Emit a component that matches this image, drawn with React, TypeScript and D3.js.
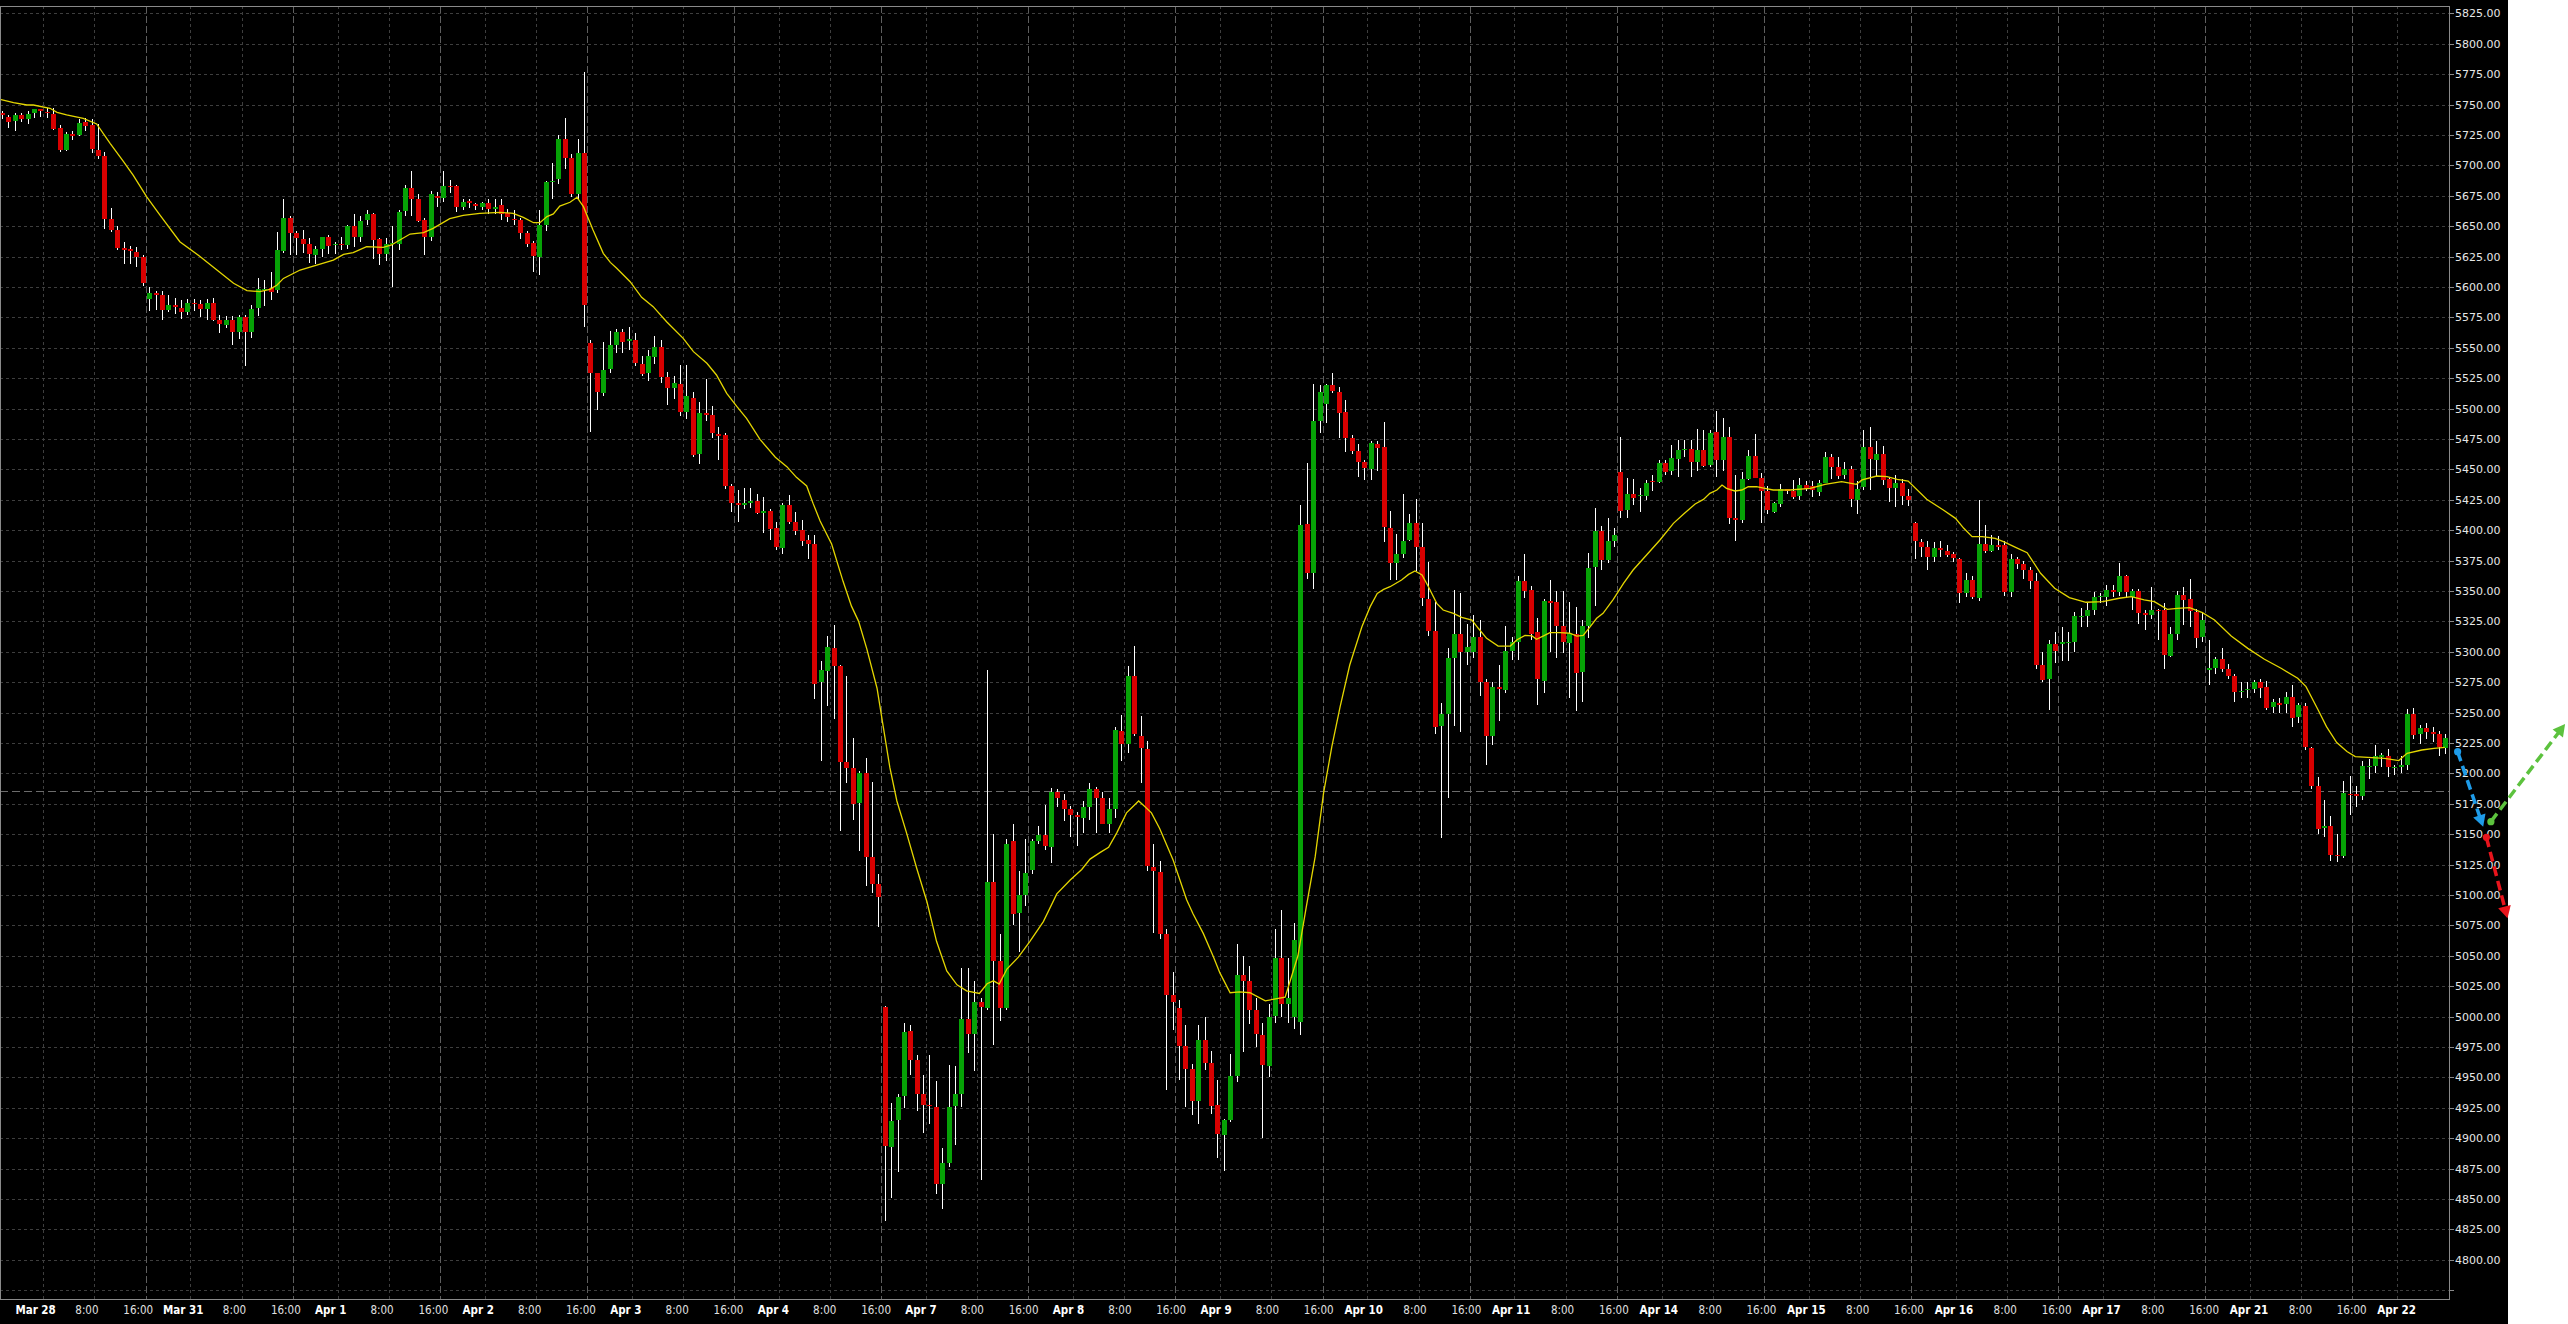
import React from 'react';
import * as d3 from 'd3';

const opens = [
5743,5740,5736,5741,5738,5743,5746,5744,5742,5731,
5713,5726,5725,5736,5733,5713,5708,5656,5647,5632,
5631,5629,5625,5590,5595,5593,5581,5585,5583,5580,
5587,5586,5582,5587,5573,5569,5573,5563,5575,5563,
5582,5598,5599,5597,5630,5657,5644,5639,5635,5626,
5631,5641,5634,5635,5634,5650,5641,5655,5660,5639,
5627,5635,5636,5662,5681,5672,5655,5641,5675,5673,
5683,5683,5666,5671,5668,5666,5669,5664,5667,5661,
5656,5655,5644,5636,5625,5651,5686,5689,5722,5706,
5676,5710,5554,5529,5513,5532,5552,5563,5555,5556,
5537,5529,5543,5551,5526,5517,5520,5497,5509,5462,
5496,5495,5479,5478,5436,5422,5420,5422,5424,5414,
5416,5402,5386,5421,5407,5400,5392,5389,5275,5284,
5303,5288,5209,5204,5175,5200,5131,5109,5008,4893,
4915,4934,4988,4964,4936,4927,4926,4863,4880,4926,
4936,4998,4986,5012,5007,5111,5046,5007,5144,5085,
5100,5120,5144,5149,5140,5185,5178,5171,5166,5163,
5172,5187,5180,5159,5171,5235,5224,5280,5231,5220,
5123,5119,5068,5018,5007,4976,4957,4931,4981,4962,
4927,4903,4915,4951,5034,5029,5005,4985,4960,5000,
5048,5010,5000,4995,5405,5365,5490,5503,5519,5514,
5497,5476,5465,5456,5451,5471,5468,5402,5373,5380,
5392,5406,5386,5343,5317,5239,5249,5295,5315,5300,
5300,5312,5275,5231,5271,5269,5301,5308,5358,5351,
5316,5276,5342,5341,5321,5308,5315,5283,5321,5369,
5399,5375,5391,5448,5417,5430,5428,5428,5440,5439,
5455,5448,5459,5466,5467,5456,5466,5454,5481,5458,
5477,5410,5408,5442,5461,5443,5432,5415,5422,5434,
5432,5428,5437,5436,5432,5439,5460,5452,5445,5450,
5425,5435,5468,5458,5463,5442,5435,5439,5428,5406,
5390,5386,5378,5385,5383,5380,5376,5348,5359,5345,
5389,5383,5388,5388,5349,5376,5372,5367,5358,5289,
5277,5306,5306,5307,5308,5328,5329,5334,5345,5345,
5351,5349,5362,5345,5350,5332,5330,5334,5334,5297,
5315,5347,5343,5333,5312,5285,5287,5294,5286,5280,
5267,5268,5269,5275,5271,5255,5258,5257,5263,5246,
5255,5221,5190,5155,5157,5133,5132,5183,5183,5181,
5205,5206,5213,5214,5204,5205,5207,5249,5232,5237,
5234,5232,5221];

const highs = [
5745,5741,5743,5743,5745,5746,5746,5747,5747,5733,
5727,5728,5738,5739,5738,5734,5711,5665,5650,5637,
5634,5633,5626,5600,5597,5597,5593,5591,5589,5590,
5590,5589,5590,5591,5577,5576,5576,5577,5577,5585,
5607,5606,5612,5645,5672,5658,5646,5647,5640,5634,
5641,5643,5637,5641,5651,5660,5658,5663,5661,5640,
5640,5650,5663,5684,5695,5676,5657,5679,5678,5695,
5688,5684,5672,5672,5669,5670,5672,5672,5672,5664,
5663,5657,5646,5638,5663,5687,5702,5725,5739,5709,
5722,5777,5556,5529,5555,5564,5565,5565,5567,5562,
5543,5548,5560,5556,5530,5527,5536,5536,5514,5505,
5524,5502,5485,5480,5438,5433,5435,5435,5430,5427,
5417,5407,5422,5429,5415,5408,5396,5396,5292,5313,
5322,5289,5280,5229,5202,5213,5193,5117,5009,4929,
4936,4995,4993,4968,4952,4968,4947,4892,4960,4959,
5040,5040,5029,5015,5285,5150,5068,5146,5158,5120,
5146,5146,5157,5174,5188,5187,5183,5173,5168,5177,
5192,5189,5185,5180,5238,5248,5288,5305,5247,5227,
5142,5128,5072,5037,5014,4993,4961,4993,5000,4972,
4948,4916,4969,5060,5050,5042,5015,4995,5010,5072,
5088,5048,5077,5421,5455,5520,5519,5520,5529,5518,
5507,5478,5471,5458,5473,5473,5489,5416,5397,5430,
5413,5426,5406,5374,5341,5258,5303,5351,5348,5323,
5330,5326,5278,5275,5289,5321,5312,5362,5380,5354,
5328,5343,5359,5350,5350,5341,5337,5326,5381,5418,
5403,5410,5402,5477,5443,5442,5435,5441,5445,5458,
5458,5470,5474,5474,5474,5483,5482,5482,5498,5492,
5485,5445,5448,5466,5479,5447,5436,5423,5438,5434,
5441,5443,5440,5440,5441,5464,5463,5460,5456,5453,
5440,5482,5485,5473,5469,5444,5445,5442,5434,5407,
5393,5391,5390,5391,5388,5382,5377,5365,5362,5425,
5404,5396,5395,5391,5380,5378,5375,5370,5365,5300,
5310,5316,5320,5316,5333,5336,5340,5349,5348,5355,
5355,5373,5363,5352,5352,5334,5353,5335,5340,5320,
5350,5353,5360,5335,5333,5310,5296,5303,5290,5282,
5275,5275,5277,5278,5276,5261,5262,5267,5273,5258,
5258,5222,5197,5178,5165,5150,5194,5198,5190,5210,
5212,5223,5217,5220,5207,5214,5253,5254,5240,5241,
5238,5235,5232];

const lows = [
5738,5731,5728,5736,5734,5739,5740,5739,5729,5711,
5712,5721,5724,5728,5710,5705,5648,5645,5630,5619,
5619,5616,5601,5580,5581,5573,5579,5578,5574,5577,
5580,5575,5573,5572,5562,5566,5552,5557,5535,5558,
5576,5584,5589,5595,5628,5626,5626,5628,5620,5619,
5625,5627,5627,5630,5631,5633,5637,5651,5623,5618,
5621,5600,5630,5658,5658,5653,5626,5638,5666,5670,
5677,5662,5663,5665,5663,5663,5660,5660,5655,5653,
5651,5639,5633,5612,5610,5646,5672,5685,5697,5674,
5672,5567,5481,5499,5510,5529,5546,5546,5548,5535,
5527,5523,5537,5521,5503,5508,5494,5491,5460,5454,
5490,5476,5458,5434,5415,5407,5417,5418,5413,5398,
5392,5384,5380,5405,5396,5387,5376,5261,5210,5255,
5245,5153,5192,5162,5136,5107,5102,5074,4832,4851,
4872,4925,4952,4922,4904,4912,4854,4842,4876,4894,
4926,4970,4955,4866,5005,4977,4996,5005,5075,5053,
5091,5117,5142,5137,5126,5172,5161,5148,5140,5151,
5162,5151,5158,5151,5163,5210,5217,5231,5192,5120,
5069,5064,4940,4989,4948,4926,4919,4912,4956,4920,
4884,4873,4913,4946,4971,4994,4975,4900,4950,4995,
5000,4995,4990,4985,5360,5352,5480,5488,5513,5476,
5464,5463,5444,5441,5441,5449,5390,5359,5359,5377,
5391,5366,5338,5313,5232,5147,5180,5239,5234,5289,
5295,5264,5207,5223,5243,5266,5293,5293,5344,5310,
5256,5266,5300,5295,5299,5262,5251,5259,5311,5338,
5367,5373,5386,5410,5410,5421,5415,5425,5432,5439,
5445,5445,5444,5460,5444,5449,5452,5452,5444,5449,
5405,5391,5406,5441,5443,5406,5413,5414,5419,5430,
5426,5425,5432,5427,5428,5439,5442,5442,5442,5419,
5413,5433,5433,5444,5437,5423,5419,5421,5420,5376,
5378,5367,5374,5378,5378,5374,5340,5345,5343,5342,
5381,5382,5384,5346,5345,5368,5360,5352,5286,5275,
5252,5291,5292,5292,5300,5320,5320,5330,5340,5338,
5345,5346,5344,5334,5323,5318,5327,5310,5286,5296,
5310,5322,5320,5303,5308,5273,5282,5283,5278,5259,
5262,5262,5266,5262,5252,5250,5250,5250,5238,5241,
5219,5187,5150,5148,5128,5127,5130,5166,5172,5178,
5195,5200,5205,5197,5199,5200,5203,5228,5224,5228,
5226,5214,5216];

const closes = [
5741,5736,5741,5738,5742,5746,5744,5743,5730,5713,
5726,5724,5735,5733,5713,5708,5656,5647,5632,5630,
5629,5625,5604,5595,5593,5581,5585,5583,5580,5587,
5586,5582,5587,5573,5570,5573,5563,5575,5563,5582,
5598,5598,5596,5630,5657,5645,5640,5635,5627,5631,
5641,5634,5635,5634,5650,5641,5654,5660,5639,5627,
5635,5636,5662,5681,5672,5654,5641,5676,5673,5683,
5682,5666,5670,5669,5666,5669,5664,5666,5660,5658,
5655,5644,5635,5625,5651,5686,5687,5722,5706,5676,
5710,5585,5529,5513,5532,5552,5563,5555,5557,5537,
5529,5543,5551,5526,5517,5521,5497,5510,5462,5496,
5494,5480,5477,5436,5422,5420,5422,5424,5414,5416,
5401,5386,5421,5407,5400,5391,5389,5274,5285,5304,
5288,5209,5204,5174,5200,5131,5109,5098,4894,4914,
4934,4987,4964,4936,4927,4926,4863,4880,4926,4936,
4998,4986,5012,5008,5111,5046,5007,5142,5084,5100,
5118,5144,5149,5140,5185,5180,5171,5166,5164,5172,
5187,5180,5159,5171,5236,5224,5280,5232,5221,5124,
5120,5068,5018,5012,4976,4957,4931,4981,4962,4927,
4903,4915,4951,5034,5029,5005,4985,4960,5000,5048,
5010,5015,5063,5404,5365,5490,5514,5519,5514,5497,
5476,5465,5456,5451,5472,5468,5402,5373,5380,5391,
5406,5386,5344,5317,5238,5249,5295,5315,5300,5304,
5312,5275,5231,5271,5269,5301,5308,5358,5350,5315,
5277,5342,5340,5321,5308,5315,5283,5321,5369,5399,
5375,5391,5396,5416,5430,5427,5429,5439,5439,5455,
5448,5459,5466,5467,5456,5466,5453,5480,5458,5477,
5410,5408,5442,5461,5443,5432,5416,5422,5434,5432,
5427,5437,5434,5433,5439,5460,5452,5445,5450,5425,
5434,5468,5458,5463,5442,5435,5439,5428,5425,5391,
5386,5378,5385,5383,5380,5377,5348,5359,5345,5389,
5383,5388,5386,5349,5376,5372,5367,5358,5289,5277,
5306,5300,5308,5308,5329,5329,5334,5345,5346,5351,
5349,5362,5349,5350,5332,5330,5334,5333,5297,5315,
5347,5343,5333,5312,5326,5287,5294,5286,5280,5267,
5268,5269,5275,5270,5254,5259,5256,5263,5246,5256,
5221,5190,5155,5157,5133,5132,5184,5182,5181,5206,
5206,5214,5215,5205,5205,5207,5249,5232,5237,5234,
5232,5221,5229];

// moving-average line, sampled: position in bar units and value
const maIdx = [
-0.3,1.8,3.9,4.9,7.5,8.6,10.1,12.7,14.8,16.9,19.0,20.5,22.6,24.7,27.8,31.0,33.6,36.2,38.3,40.3,
41.9,43.0,44.0,46.6,49.2,51.8,53.4,54.9,57.0,59.6,60.9,62.2,63.8,65.9,67.4,70.0,72.1,74.7,77.9,79.9,
81.5,83.1,84.1,85.2,86.2,87.2,88.8,89.9,90.9,92.4,94.0,95.1,96.1,98.2,100.0,101.8,103.9,106.5,108.1,110.2,
111.7,113.3,114.9,116.4,118.5,120.9,122.7,124.2,125.8,126.8,127.9,129.7,131.5,132.8,133.9,135.2,136.8,137.8,138.8,139.9,
141.4,143.0,144.6,146.1,147.7,149.3,150.8,152.8,154.0,155.0,155.9,157.1,158.9,160.7,162.8,164.9,167.0,168.8,170.1,171.7,
173.0,174.3,175.8,177.7,178.4,179.7,181.0,183.1,185.2,186.2,187.8,189.4,190.4,192.0,193.5,195.1,197.5,200.6,202.6,203.9,
205.3,206.6,207.9,209.2,210.7,212.6,213.9,215.0,216.0,217.0,218.8,219.9,220.9,222.0,223.0,224.3,225.3,226.9,228.2,229.8,
230.8,232.1,233.9,235.8,236.8,238.1,239.2,239.9,241.0,242.0,243.6,245.1,246.2,247.2,248.3,249.3,250.3,251.9,253.5,255.0,
257.1,259.2,261.3,262.9,264.7,266.0,267.0,268.1,268.9,269.6,270.9,272.0,273.0,274.3,275.6,276.9,279.5,282.7,285.0,287.6,
289.9,290.8,293.1,294.7,296.3,298.0,300.9,303.5,305.4,306.7,308.0,309.6,311.6,312.9,314.8,316.6,318.7,320.9,323.2,325.8,
328.4,331.0,332.9,334.9,336.5,338.5,340.1,342.0,344.0,345.9,348.5,351.1,353.7,356.3,358.9,360.2,362.1,363.4,365.0,366.6,
367.9,370.5,372.5,374.7,376.0,378.3,380.2,381.9];
const maVal = [
5754.2,5751.5,5749.6,5749.6,5746.9,5743.6,5741.4,5738.6,5734,5718.1,5703,5692,5674.2,5659.1,5637.2,5624.9,5613.9,5603,5597,5596.1,
5598,5601.6,5607,5613.9,5618,5622.1,5626.8,5628.2,5633.1,5632.6,5634.5,5638.6,5643.5,5644.6,5648.2,5656.1,5658.9,5660.5,5661.3,5660.5,
5657.2,5652.8,5652.8,5657.8,5660,5666.5,5669.6,5673.7,5666,5646.8,5627.6,5620.2,5615.3,5604.3,5591.4,5583.8,5571.4,5557.7,5546.8,5537.2,
5527.6,5512.5,5501.5,5491.9,5474.7,5459.9,5452.2,5443.4,5436.3,5422,5407.5,5388.6,5357.7,5337.5,5325.2,5302.4,5270,5237.4,5204.9,5177.3,
5151.3,5122,5094.4,5061.9,5037.5,5026.1,5021.2,5019,5027,5029.4,5026.8,5039.1,5048.9,5061.9,5078.1,5100.9,5112.3,5121,5129.5,5135,
5139.2,5151.3,5167.5,5177.3,5174,5167.5,5154.5,5128.5,5096,5084.6,5068.4,5048.9,5035.9,5019.6,5020.3,5019.6,5013,5016,5050,5090,
5131.5,5183.6,5221.9,5254.8,5289.1,5320.6,5337.1,5348,5351.3,5353.5,5359,5363.6,5366.4,5363.1,5353.5,5339.8,5334.3,5331.6,5328.3,5326.1,
5319.3,5311,5304.7,5304.7,5309.7,5313.5,5313,5310.2,5313,5315.7,5315.7,5315.2,5312.9,5313.5,5320.6,5327.5,5331.6,5343.1,5356.3,5367.2,
5379.6,5391.9,5405.6,5413.3,5421.5,5425.3,5430.3,5433,5437.1,5434.4,5432.2,5433,5435.7,5435.7,5434.4,5433,5433,5434.4,5437.7,5439.9,
5437.7,5441.3,5444.5,5444,5441.8,5440.4,5425.4,5416.6,5409.7,5401.5,5394.7,5394.7,5393.3,5390.6,5385.9,5381.5,5364.5,5352.2,5344.5,5340.7,
5341.2,5344,5345.3,5342.6,5341.2,5334.9,5335.7,5336.3,5332.2,5326.1,5313,5302.8,5293.8,5286.4,5278.2,5271.3,5252.1,5238.4,5225.3,5217.9,
5213.8,5213,5212.4,5210.5,5216.5,5219.2,5220.6,5221.4];

const dayLabels = ['Mar 28','Mar 31','Apr 1','Apr 2','Apr 3','Apr 4','Apr 7','Apr 8','Apr 9','Apr 10','Apr 11','Apr 14','Apr 15','Apr 16','Apr 17','Apr 21','Apr 22'];
const hourLabels = ['8:00', '16:00'];
const priceLevels = d3.range(4775, 5826, 25);
const markerLine = 5185.4;

// drawn arrows: start/end as [bar position, price]
const arrowStarts = [[383.9, 5217.8], [389.1, 5160.3], [388.4, 5147.4]];
const arrowEnds = [[387.9, 5156.0], [400.7, 5240.6], [391.7, 5080.8]];
const arrowColors = ['#1e9be8', '#5cc23e', '#e8141c'];

const W = 2568, H = 1324;
const BG_W = 2508;
const PL = 0, PR = 2449, PT = 6, PB = 1299;
const BARS_PER_DAY = 23;
const FIRST_DAY_BAR = 7;

export default function App() {
  const n = closes.length;
  const x = d3.scaleLinear().domain([0, n - 1]).range([2, 2 + (n - 1) * 6.3965]);
  const y = d3.scaleLinear().domain([4775, 5825]).range([1290.2, 13.3]);
  const labelX = d3.scaleLinear().domain([FIRST_DAY_BAR, FIRST_DAY_BAR + 16 * BARS_PER_DAY]).range([35.6, 2396.6]);

  const vGrid: { bar: number; bright: boolean }[] = [];
  const xLabels: { bar: number; text: string; bold: boolean }[] = [];
  dayLabels.forEach((d, k) => {
    const b0 = FIRST_DAY_BAR + k * BARS_PER_DAY;
    [0, 8, 16].forEach((h, j) => {
      const b = b0 + h;
      if (b < n) {
        vGrid.push({ bar: b, bright: j === 2 });
        xLabels.push({ bar: b, text: j === 0 ? d : hourLabels[j - 1], bold: j === 0 });
      }
    });
  });

  const maLine = d3.line<number>()
    .x((_, k) => x(maIdx[k]))
    .y((v) => y(v))
    .curve(d3.curveLinear)(maVal) as string;

  const arrows = arrowStarts.map((s, k) => {
    const e = arrowEnds[k];
    const x1 = x(s[0]), y1 = y(s[1]), x2 = x(e[0]), y2 = y(e[1]);
    const dx = x2 - x1, dy = y2 - y1;
    const len = Math.hypot(dx, dy);
    const ux = dx / len, uy = dy / len;
    const hl = 12, hw = 6.5;
    const bx = x2 - ux * hl, by = y2 - uy * hl;
    const head = `${x2},${y2} ${bx - uy * hw},${by + ux * hw} ${bx + uy * hw},${by - ux * hw}`;
    return { x1, y1, lx: x2 - ux * (hl - 2), ly: y2 - uy * (hl - 2), head, color: arrowColors[k] };
  });

  return (
    <svg width={W} height={H} style={{ position: 'absolute', left: 0, top: 0, display: 'block' }}>
      <defs>
        <clipPath id="plotClip">
          <rect x={PL} y={PT} width={PR - PL} height={PB - PT} />
        </clipPath>
      </defs>
      <rect x={0} y={0} width={BG_W} height={H} fill="#000" />

      {/* horizontal grid */}
      <g shapeRendering="crispEdges">
        {priceLevels.map((p) => (
          <line key={p} x1={PL} x2={PR} y1={Math.round(y(p)) + 0.5} y2={Math.round(y(p)) + 0.5}
            stroke="#3e3e3e" strokeDasharray="3 3" />
        ))}
        {vGrid.map((g) => {
          const gx = Math.round(x(g.bar) - 3.5) + 0.5;
          return (
            <line key={g.bar} x1={gx} x2={gx} y1={PT} y2={PB}
              stroke={g.bright ? '#5e5e5e' : '#3e3e3e'} strokeDasharray={g.bright ? '7 3' : '3 3'} />
          );
        })}
        <line x1={PL} x2={PR} y1={Math.round(y(markerLine)) + 0.5} y2={Math.round(y(markerLine)) + 0.5}
          stroke="#6c6c6c" strokeDasharray="8 4" />
      </g>

      {/* candles */}
      <g clipPath="url(#plotClip)" shapeRendering="crispEdges">
        {closes.map((c, i) => {
          const o = opens[i];
          const cx = Math.round(x(i));
          const yo = y(o), yc = y(c);
          const top = Math.round(Math.min(yo, yc));
          const h = Math.max(1, Math.round(Math.abs(yo - yc)));
          const up = c >= o;
          return (
            <g key={i}>
              <line x1={cx + 0.5} x2={cx + 0.5} y1={Math.round(y(highs[i]))} y2={Math.round(y(lows[i]))} stroke="#ffffff" strokeWidth={1} />
              <rect x={cx - 2} y={top} width={5} height={h} fill={up ? '#06a206' : '#d80000'} />
            </g>
          );
        })}
        <path d={maLine} fill="none" stroke="#e4d600" strokeWidth={1.3} shapeRendering="auto" />
      </g>

      {/* frame */}
      <g shapeRendering="crispEdges" stroke="#8a8a8a" fill="none">
        <line x1={0.5} x2={0.5} y1={PT} y2={PB} />
        <line x1={0} x2={PR + 0.5} y1={PT + 0.5} y2={PT + 0.5} />
        <line x1={0} x2={PR + 0.5} y1={PB + 0.5} y2={PB + 0.5} />
        <line x1={PR + 0.5} x2={PR + 0.5} y1={PT} y2={PB + 1} />
        {priceLevels.map((p) => (
          <line key={p} x1={PR} x2={PR + 5} y1={Math.round(y(p)) + 0.5} y2={Math.round(y(p)) + 0.5} />
        ))}
      </g>

      {/* price labels */}
      <g fontFamily="'DejaVu Sans', sans-serif" fontSize={11} fill="#e6e6e6">
        {priceLevels.filter((p) => p >= 4800).map((p) => (
          <text key={p} x={2455} y={y(p) + 4}>{p.toFixed(2)}</text>
        ))}
      </g>

      {/* time labels */}
      <g fontFamily="'DejaVu Sans Condensed', 'DejaVu Sans', sans-serif" fontSize={11.5} fill="#e8e8e8">
        {xLabels.map((l) => (
          <text key={l.bar} x={labelX(l.bar)} y={1314} textAnchor="middle" fontWeight={l.bold ? 'bold' : 'normal'}
            fill={l.bold ? '#ffffff' : '#e0e0e0'}>{l.text}</text>
        ))}
      </g>

      {/* arrows */}
      {arrows.map((a, k) => (
        <g key={k}>
          <line x1={a.x1} y1={a.y1} x2={a.lx} y2={a.ly} stroke={a.color} strokeWidth={3.5} strokeDasharray="10 5" />
          <circle cx={a.x1} cy={a.y1} r={3.6} fill={a.color} />
          <polygon points={a.head} fill={a.color} />
        </g>
      ))}
    </svg>
  );
}
